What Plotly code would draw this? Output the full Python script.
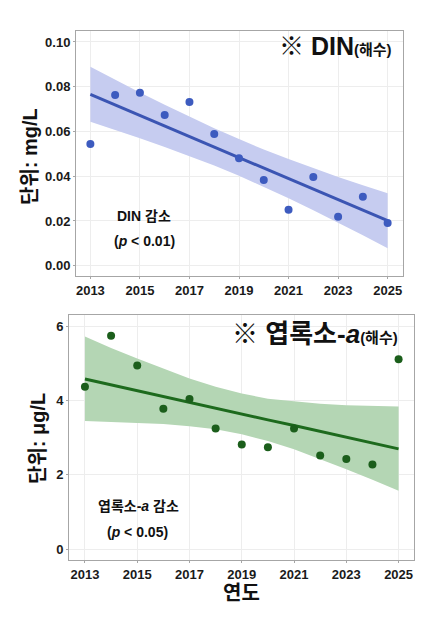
import plotly.graph_objects as go

# Datos
years = [2013, 2014, 2015, 2016, 2017, 2018, 2019, 2020, 2021, 2022, 2023, 2024, 2025]

din = [0.0544, 0.0763, 0.0773, 0.0674, 0.0732, 0.0589, 0.0480, 0.0383, 0.0250, 0.0396, 0.0219, 0.0308, 0.0191]
din_fit = [0.0766, 0.0719, 0.0672, 0.0625, 0.0578, 0.0531, 0.0484, 0.0436, 0.0389, 0.0342, 0.0295, 0.0248, 0.0201]
din_upper = [0.0889, 0.0831, 0.0774, 0.0719, 0.0666, 0.0614, 0.0566, 0.0519, 0.0477, 0.0436, 0.0397, 0.0360, 0.0324]
din_lower = [0.0643, 0.0607, 0.0570, 0.0531, 0.0491, 0.0448, 0.0402, 0.0353, 0.0302, 0.0248, 0.0193, 0.0136, 0.0078]

chla = [4.37, 5.74, 4.94, 3.78, 4.04, 3.25, 2.82, 2.74, 3.25, 2.52, 2.43, 2.28, 5.11]
chla_fit = [4.58, 4.42, 4.27, 4.11, 3.95, 3.80, 3.64, 3.48, 3.33, 3.17, 3.01, 2.86, 2.70]
chla_upper = [5.72, 5.41, 5.13, 4.85, 4.59, 4.37, 4.19, 4.05, 3.97, 3.91, 3.87, 3.85, 3.84]
chla_lower = [3.45, 3.43, 3.41, 3.37, 3.31, 3.23, 3.09, 2.91, 2.69, 2.43, 2.15, 1.87, 1.57]

FONT = "Liberation Sans, Arial, Noto Sans CJK KR"
# la página tiene un margen de 8px en el body, así que la figura es algo más pequeña
OFF = 8
W, H = 440 - OFF, 632 - OFF


def px(x):
    return (x - OFF) / W


def py(y):
    return 1 - (y - OFF) / H


fig = go.Figure()

# --- Panel superior: DIN ---
fig.add_trace(go.Scatter(x=years, y=din_upper, mode="lines", line=dict(width=0),
                         xaxis="x", yaxis="y", hoverinfo="skip"))
fig.add_trace(go.Scatter(x=years, y=din_lower, mode="lines", line=dict(width=0),
                         fill="tonexty", fillcolor="#c6ccf0", xaxis="x", yaxis="y", hoverinfo="skip"))
fig.add_trace(go.Scatter(x=years, y=din_fit, mode="lines", line=dict(color="#3b55b3", width=3),
                         xaxis="x", yaxis="y"))
fig.add_trace(go.Scatter(x=years, y=din, mode="markers", marker=dict(color="#3d5bbf", size=8),
                         xaxis="x", yaxis="y"))

# --- Panel inferior: Clorofila-a ---
fig.add_trace(go.Scatter(x=years, y=chla_upper, mode="lines", line=dict(width=0),
                         xaxis="x2", yaxis="y2", hoverinfo="skip"))
fig.add_trace(go.Scatter(x=years, y=chla_lower, mode="lines", line=dict(width=0),
                         fill="tonexty", fillcolor="#b4d6b4", xaxis="x2", yaxis="y2", hoverinfo="skip"))
fig.add_trace(go.Scatter(x=years, y=chla_fit, mode="lines", line=dict(color="#1d6a1d", width=3),
                         xaxis="x2", yaxis="y2"))
fig.add_trace(go.Scatter(x=years, y=chla, mode="markers", marker=dict(color="#1b5e1b", size=8),
                         xaxis="x2", yaxis="y2"))

tickfont = dict(family=FONT, size=13, color="#1a1a1a", weight="bold")
common = dict(showline=True, mirror=True, linecolor="#a6a6a6", linewidth=1,
              ticks="outside", ticklen=2, tickcolor="#a6a6a6",
              showgrid=True, gridcolor="#ededed", gridwidth=1, zeroline=False,
              tickfont=tickfont)

fig.update_layout(
    width=W, height=H,
    margin=dict(l=0, r=0, t=0, b=0),
    paper_bgcolor="white", plot_bgcolor="white",
    showlegend=False,
    xaxis=dict(domain=[px(76), px(403)], range=[2012.42, 2025.62], tick0=2013, dtick=2,
               anchor="y", **common),
    yaxis=dict(domain=[py(276), py(31)], range=[-0.0046, 0.1049], dtick=0.02,
               tickformat=".2f", anchor="x", **common),
    xaxis2=dict(domain=[px(69), px(414)], range=[2012.39, 2025.59], tick0=2013, dtick=2,
                anchor="y2", **common),
    yaxis2=dict(domain=[py(560), py(315)], range=[-0.29, 6.30], dtick=2,
                anchor="x2", **common),
)


def note(text, x, y, size, xanchor="center", angle=0):
    fig.add_annotation(text=text, x=px(x), y=py(y), xref="paper", yref="paper",
                       xanchor=xanchor, yanchor="middle", showarrow=False, textangle=angle,
                       font=dict(family=FONT, size=size, color="#111111", weight="bold"))


# Títulos de ejes
note("단위: mg/L", 30, 157, 20, angle=-90)
note("단위: μg/L", 38, 439, 20, angle=-90)
note("연도", 242, 593, 20)

# Títulos de paneles
note("※ DIN<span style='font-size:15px'>(해수)</span>", 394, 46, 25, xanchor="right")
note("※ 엽록소-<i>a</i><span style='font-size:15px'>(해수)</span>", 400, 334, 26, xanchor="right")

# Notas de tendencia
note("DIN 감소", 144, 216, 14)
note("(<i>p</i> &lt; 0.01)", 144, 241, 14)
note("엽록소-<i>a</i> 감소", 138, 506, 14)
note("(<i>p</i> &lt; 0.05)", 137, 532, 14)

fig.write_html("out.html")
